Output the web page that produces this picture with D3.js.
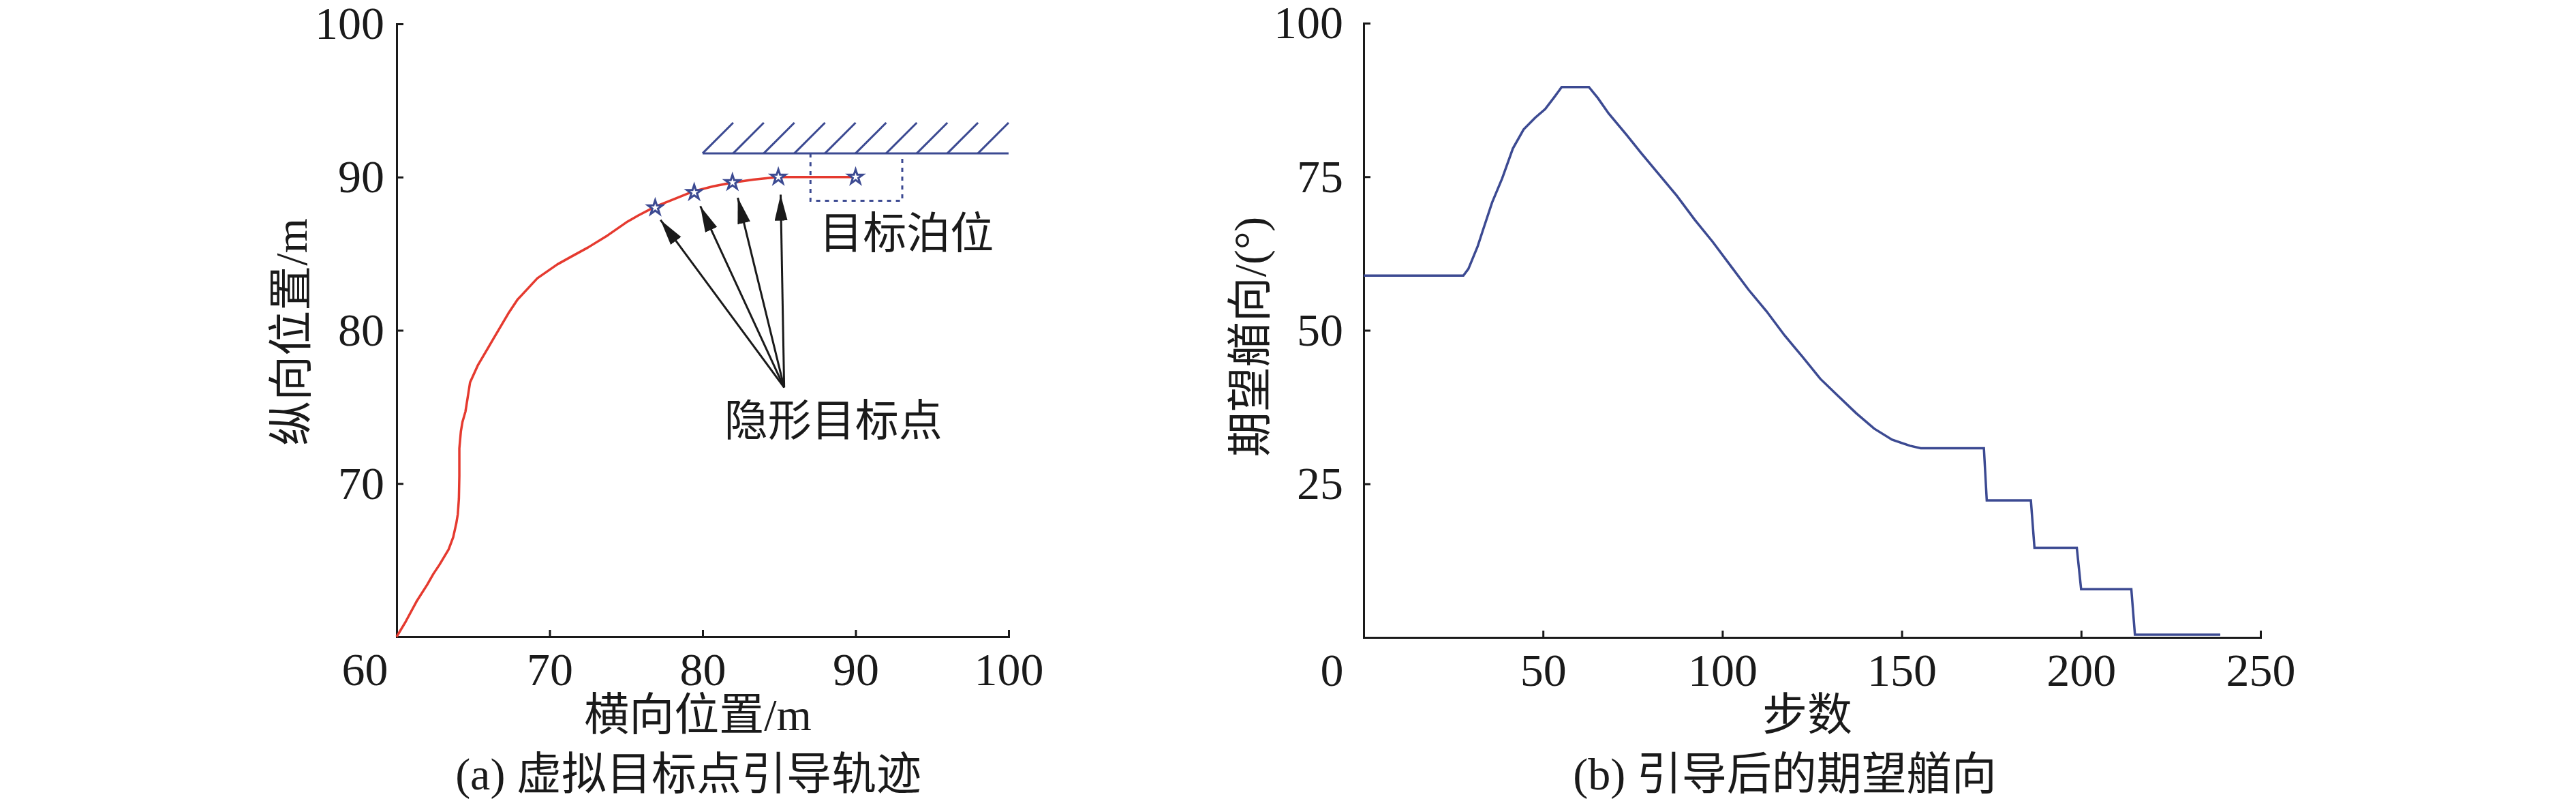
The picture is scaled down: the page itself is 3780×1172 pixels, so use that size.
<!DOCTYPE html>
<html>
<head>
<meta charset="utf-8">
<script src="https://d3js.org/d3.v7.min.js"></script>
<style>
  body { margin: 0; background: #fff; }
  text { font-family: "Liberation Serif", "Noto Sans CJK SC", serif; fill: #1a1a1a; }
</style>
</head>
<body>
<div id="chart"></div>
<script>
// ---- (a) trajectory data (m) ----
var trajX = [60, 60.6, 61.3, 62.0, 62.4, 62.8, 63.4, 63.7, 63.9, 64.0, 64.07, 64.1, 64.1, 64.2, 64.3, 64.5,
             64.8, 65.3, 66.3, 67.3, 67.9, 69.2, 70.5, 71.4, 72.5, 73.8, 75.1, 75.8, 76.9, 78.1, 79.4,
             80.7, 81.9, 83.3, 84.9, 90]
var trajY = [60, 61.0, 62.3, 63.4, 64.1, 64.7, 65.7, 66.5, 67.4, 68.0, 69.0, 70.5, 72.3, 73.4, 74.0, 74.7,
             76.6, 77.7, 79.4, 81.1, 82.0, 83.4, 84.3, 84.8, 85.4, 86.2, 87.1, 87.5, 88.07, 88.55, 89.07,
             89.4, 89.63, 89.83, 90.0, 90]

// hidden target points
var starX = [76.9, 79.45, 81.95, 84.95, 90.0]
var starY = [88.0, 89.0, 89.65, 90.0, 90.0]

// arrow tips + common tail
var arrowTipX = [77.25, 79.85, 82.3, 85.1]
var arrowTipY = [87.2, 88.1, 88.65, 88.85]
var arrowTail = [85.33, 76.27]

// wall and berth box
var wallY = 91.55, wallX = [80, 100], hatchStep = 2
var berthX = [87.05, 93.05], berthY = [88.45, 91.55]

var xTicksA = [60, 70, 80, 90, 100]
var yTicksA = [70, 80, 90, 100]

// ---- (b) desired heading data ----
var steps   = [0, 27.8, 29.2, 31.8, 33.2, 35.8, 38.6, 41.6, 44.6, 47.8, 50.6, 53.2, 55.2, 62.8, 65.3, 68.3,
               73.3, 77.3, 82.3, 87.3, 92.3, 97.3, 102.3, 107.3, 112.3, 117.3, 122.3, 127.3, 132.3, 137.3,
               142.3, 147.3, 152.3, 155.3, 172.9, 173.7, 186.0, 187.0, 198.8, 200.0, 214.0, 215.0, 238.8]
var heading = [58.9, 58.9, 60.0, 63.7, 66.2, 70.8, 74.7, 79.6, 82.7, 84.6, 86.0, 88.0, 89.6, 89.6, 87.8, 85.3,
               81.8, 78.9, 75.4, 71.9, 68.0, 64.4, 60.5, 56.6, 53.1, 49.2, 45.7, 42.1, 39.3, 36.5,
               34.0, 32.2, 31.2, 30.8, 30.8, 22.3, 22.3, 14.6, 14.6, 7.85, 7.85, 0.45, 0.45]

var xTicksB = [0, 50, 100, 150, 200, 250]
var yTicksB = [25, 50, 75, 100]

var blue = "#3c4a92", red = "#e53a2f", ink = "#1a1a1a"

var svg = d3.select("#chart")
  .append("svg")
    .attr("width", 3780)
    .attr("height", 1172)

svg.append("rect")
    .attr("width", 3780)
    .attr("height", 1172)
    .style("fill", "#fff")

// arrow head
svg.append("defs").append("marker")
    .attr("id", "head")
    .attr("markerUnits", "userSpaceOnUse")
    .attr("markerWidth", 40)
    .attr("markerHeight", 20)
    .attr("refX", 38)
    .attr("refY", 9.5)
    .attr("orient", "auto")
  .append("path")
    .attr("d", "M0,0L38,9.5L0,19Z")
    .style("fill", ink)

function drawAxes(x, y, xTicks, yTicks, yPad) {
  var gx = svg.append("g")
    .attr("transform", "translate(0," + y.range()[0] + ")")
    .call(d3.axisBottom(x).tickValues(xTicks).tickSizeInner(-10).tickSizeOuter(0).tickPadding(23))
  var gy = svg.append("g")
    .attr("transform", "translate(" + x.range()[0] + ",0)")
    .call(d3.axisLeft(y).tickValues(yTicks).tickSizeInner(-10).tickSizeOuter(0).tickPadding(yPad))
  ;[gx, gy].forEach(function(g) {
    g.attr("font-size", 68).attr("font-family", null).style("color", ink)
    g.selectAll("line").attr("stroke-width", 3)
    g.select(".domain").attr("stroke-width", 3).attr("stroke-linecap", "square")
  })
  // first x label pushed left of the corner
  gx.selectAll(".tick text").filter(function(d, i) { return i === 0 }).attr("x", -47)
}

function label(txt, cx, cy, size, rotate) {
  svg.append("text")
    .attr("transform", "translate(" + cx + "," + cy + ")" + (rotate ? " rotate(-90)" : ""))
    .attr("text-anchor", "middle")
    .attr("dominant-baseline", "central")
    .style("font-size", size + "px")
    .text(txt)
}

// ================= (a) =================
var xa = d3.scaleLinear().domain([60, 100]).range([582, 1480])
var ya = d3.scaleLinear().domain([60, 100]).range([934, 35])

drawAxes(xa, ya, xTicksA, yTicksA, 18)

// wall
svg.append("line")
    .attr("x1", xa(wallX[0])).attr("x2", xa(wallX[1]))
    .attr("y1", ya(wallY)).attr("y2", ya(wallY))
    .attr("stroke", blue).attr("stroke-width", 3)
svg.append("g")
  .selectAll("line")
  .data(d3.range(wallX[0], wallX[1], hatchStep))
  .enter()
  .append("line")
    .attr("x1", function(d) { return xa(d) })
    .attr("y1", ya(wallY))
    .attr("x2", function(d) { return xa(d + hatchStep) })
    .attr("y2", ya(wallY + hatchStep))
    .attr("stroke", blue).attr("stroke-width", 3)

// berth box (dashed)
svg.append("path")
    .attr("d", "M" + xa(berthX[0]) + "," + ya(berthY[1]) + "V" + ya(berthY[0]) +
               "H" + xa(berthX[1]) + "V" + ya(berthY[1]))
    .attr("fill", "none")
    .attr("stroke", blue).attr("stroke-width", 3)
    .attr("stroke-dasharray", "6,7")

// trajectory
var traj = trajX.map(function(v, i) { return [v, trajY[i]] })
svg.append("path")
    .datum(traj)
    .attr("fill", "none")
    .attr("stroke", red)
    .attr("stroke-width", 3.5)
    .attr("stroke-linejoin", "round")
    .attr("d", d3.line().x(function(d) { return xa(d[0]) }).y(function(d) { return ya(d[1]) }))

// stars
svg.append("g")
  .selectAll("path")
  .data(starX.map(function(v, i) { return [v, starY[i]] }))
  .enter()
  .append("path")
    .attr("transform", function(d) { return "translate(" + xa(d[0]) + "," + ya(d[1]) + ")" })
    .attr("d", d3.symbol().type(d3.symbolStar).size(140))
    .attr("fill", "#fff")
    .attr("stroke", blue)
    .attr("stroke-width", 3)

// arrows
svg.append("g")
  .selectAll("line")
  .data(arrowTipX.map(function(v, i) { return [v, arrowTipY[i]] }))
  .enter()
  .append("line")
    .attr("x1", xa(arrowTail[0])).attr("y1", ya(arrowTail[1]))
    .attr("x2", function(d) { return xa(d[0]) })
    .attr("y2", function(d) { return ya(d[1]) })
    .attr("stroke", ink).attr("stroke-width", 3)
    .attr("marker-end", "url(#head)")

// annotations
svg.append("text")
    .attr("x", xa(87.63)).attr("y", ya(86.3))
    .attr("dominant-baseline", "central")
    .style("font-size", "64px")
    .text("目标泊位")
svg.append("text")
    .attr("x", xa(81.41)).attr("y", ya(74.08))
    .attr("dominant-baseline", "central")
    .style("font-size", "64px")
    .text("隐形目标点")

label("横向位置/m", 1024, 1048, 66)
label("(a) 虚拟目标点引导轨迹", 1010, 1135, 66)
label("纵向位置/m", 427, 487, 66, true)

// ================= (b) =================
var xb = d3.scaleLinear().domain([0, 250]).range([2001, 3317])
var yb = d3.scaleLinear().domain([0, 100]).range([935, 34])

drawAxes(xb, yb, xTicksB, yTicksB, 30)

svg.append("path")
    .datum(steps.map(function(v, i) { return [v, heading[i]] }))
    .attr("fill", "none")
    .attr("stroke", blue)
    .attr("stroke-width", 3.5)
    .attr("d", d3.line().x(function(d) { return xb(d[0]) }).y(function(d) { return yb(d[1]) }))

label("步数", 2652, 1048, 66)
label("(b) 引导后的期望艏向", 2619, 1135, 66)
label("期望艏向/(°)", 1834, 494, 66, true)
</script>
</body>
</html>
